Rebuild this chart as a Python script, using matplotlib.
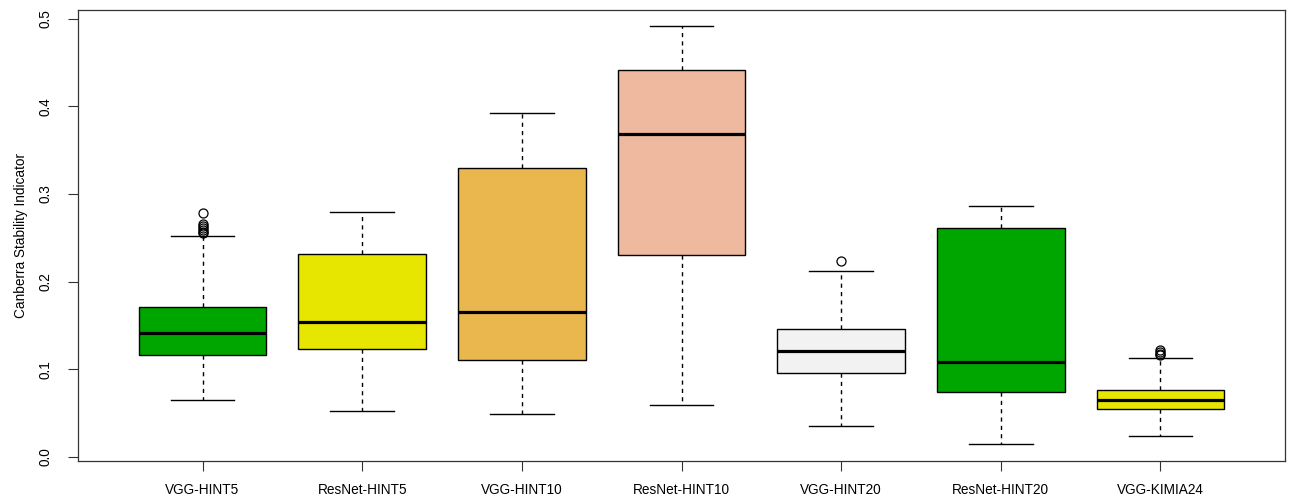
import matplotlib
matplotlib.use("Agg")
import matplotlib.pyplot as plt

plt.rcParams['font.family'] = ['Liberation Sans', 'DejaVu Sans']

labels = ["VGG-HINT5", "ResNet-HINT5", "VGG-HINT10", "ResNet-HINT10",
          "VGG-HINT20", "ResNet-HINT20", "VGG-KIMIA24"]
whislo = [0.065, 0.0525, 0.049, 0.0594, 0.0354, 0.0148, 0.024]
q1     = [0.116, 0.123, 0.1107, 0.2306, 0.0959, 0.0742, 0.0548]
med    = [0.1416, 0.154, 0.1655, 0.3687, 0.121, 0.1084, 0.065]
q3     = [0.171, 0.2317, 0.330, 0.4418, 0.146, 0.2614, 0.0765]
whishi = [0.252, 0.2797, 0.3927, 0.492, 0.2123, 0.2865, 0.113]
fliers = [[0.255, 0.257, 0.259, 0.261, 0.263, 0.266, 0.2785],
          [], [], [], [0.2237], [],
          [0.116, 0.118, 0.120, 0.122]]
colors = ["#00A600", "#E6E600", "#EAB64E", "#EEB99F", "#F2F2F2", "#00A600", "#E6E600"]

stats = []
for i in range(len(labels)):
    stats.append(dict(label=labels[i], whislo=whislo[i], q1=q1[i], med=med[i],
                      q3=q3[i], whishi=whishi[i], fliers=fliers[i]))

fig = plt.figure(figsize=(12.9, 4.97), dpi=100)
ax = fig.add_axes([78/1290, 36/497, (1285-78)/1290, (461-10)/497])

pos = list(range(1, len(labels) + 1))
bp = ax.bxp(stats, positions=pos, widths=0.8, patch_artist=True, showfliers=True,
            boxprops=dict(linewidth=1.0, edgecolor='black'),
            medianprops=dict(color='black', linewidth=2.3, solid_capstyle='butt'),
            whiskerprops=dict(color='black', linewidth=1.0, linestyle=(0, (3, 3))),
            capprops=dict(color='black', linewidth=1.0),
            capwidths=0.4,
            flierprops=dict(marker='o', markersize=6.5, markerfacecolor='none',
                            markeredgecolor='black', markeredgewidth=0.9))
for patch, c in zip(bp['boxes'], colors):
    patch.set_facecolor(c)

ax.set_xlim(0.5 - 0.28, 7.5 + 0.28)
ax.set_ylim(-0.0046, 0.510)
ax.set_xticks(pos)
ax.set_xticklabels(labels, fontsize=9.8)
ax.set_yticks([0.0, 0.1, 0.2, 0.3, 0.4, 0.5])
ax.set_yticklabels(["0.0", "0.1", "0.2", "0.3", "0.4", "0.5"], fontsize=9.8,
                   rotation=90, va='center')
ax.tick_params(axis='both', direction='out', length=7, width=0.8, color='#333333')
ax.tick_params(axis='x', pad=9)
ax.tick_params(axis='y', pad=11)
for s in ax.spines.values():
    s.set_linewidth(0.9)
    s.set_color('#333333')
ax.set_ylabel("Canberra Stability Indicator", fontsize=9.8, labelpad=8)

fig.savefig("out.png", dpi=100, facecolor='white')
